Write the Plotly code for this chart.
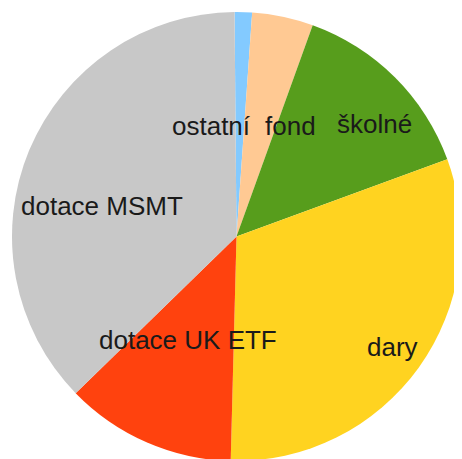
import plotly.graph_objects as go

labels = ["ostatní", "fond", "školné", "dary", "dotace UK ETF", "dotace MSMT"]
values = [1.25, 4.4, 13.9, 31.0, 12.3, 37.15]
colors = ["#83caff", "#ffc993", "#579d1c", "#ffd320", "#ff420e", "#c8c8c8"]

# label anchor positions (pixel centre of each label in the window)
label_px = [(211, 126), (290, 126), (374, 124), (392, 347), (188, 340), (102, 206)]

W, H = 462, 459
OFF = 8  # page body margin
cx, cy, r = 236.5 - OFF, 236.5 - OFF, 224.5

fig = go.Figure(go.Pie(
    labels=labels, values=values, sort=False, direction="clockwise", rotation=-0.5,
    marker=dict(colors=colors, line=dict(width=0)),
    textinfo="none", hoverinfo="label+percent", showlegend=False,
    domain=dict(x=[(cx - r) / W, (cx + r) / W], y=[1 - (cy + r) / H, 1 - (cy - r) / H]),
))

for text, (px, py) in zip(labels, label_px):
    fig.add_annotation(
        x=(px - OFF) / W, y=1 - (py - OFF) / H, xref="paper", yref="paper",
        text=text, showarrow=False, xanchor="center", yanchor="middle",
        font=dict(family="Liberation Sans, Arial, sans-serif", size=26, color="#1a1a1a"),
    )

fig.update_layout(
    width=W, height=H, margin=dict(l=0, r=0, t=0, b=0),
    paper_bgcolor="white", plot_bgcolor="white",
)
fig.write_html("out.html")
